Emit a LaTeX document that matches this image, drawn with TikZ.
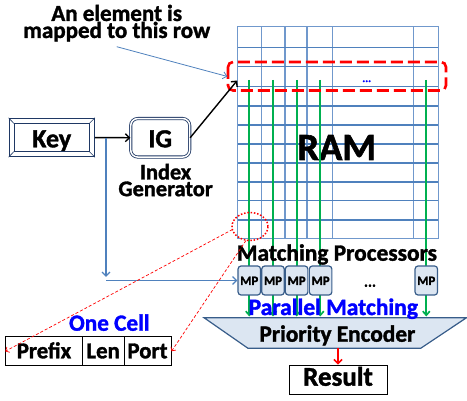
\documentclass[tikz,border=0pt]{standalone}
\usepackage{fontspec}
\setmainfont{Carlito}[BoldFont={Carlito Bold}, BoldFeatures={FakeBold=1.5}]
\usetikzlibrary{arrows.meta}
\definecolor{gridblue}{HTML}{4F81BD}
\definecolor{gridlight}{HTML}{7098CC}
\definecolor{navy}{HTML}{1F3864}
\definecolor{mpfill}{HTML}{DCE6F2}
\definecolor{mpdraw}{HTML}{385D8A}
\definecolor{grn}{HTML}{00B050}
\definecolor{txtblue}{HTML}{0000FF}
\newcommand{\fsz}[1]{\fontsize{#1}{#1}\selectfont\bfseries}
\tikzset{
  mpbox/.style={draw=mpdraw, fill=mpfill, line width=1.2pt, rounded corners=3pt,
    minimum width=22.5pt, minimum height=29pt, inner sep=0pt, text height=9pt, text depth=0pt,
    font=\fsz{12.8}},
  cellbox/.style={draw=black, line width=1pt, minimum height=29.3pt, inner sep=0pt,
    text height=14pt, text depth=0pt, font=\fsz{22.8}},
  grnarrow/.style={grn, line width=1.7pt, -{Straight Barb[length=4pt,width=7pt]}},
  bluearrow/.style={gridblue, line width=1.3pt, -{Straight Barb[length=4pt,width=8pt]}},
  redthin/.style={red, line width=0.7pt, dash pattern=on 3pt off 2pt, -{Straight Barb[length=3pt,width=6pt]}},
  lbl/.style={inner sep=0pt, anchor=base}
}
\begin{document}
\begin{tikzpicture}[x=1pt,y=-1pt]
\useasboundingbox (0,0) rectangle (467,401);
% RAM grid
\node[draw=gridlight, line width=1.4pt, minimum width=200.6pt, minimum height=211.6pt, inner sep=0pt] (ram) at (338,132.5) {};
\foreach \x in {261.3,285,307,332.3,413.7}
  \draw[gridlight, line width=1.4pt] (\x,26.7) -- (\x,238.3);
\foreach \y in {47.7,66.7,86.7,106,125,144,163.3,182.3,200.7,220}
  \draw[gridblue, line width=1.6pt] (237.7,\y) -- (438.3,\y);
\node[lbl, font=\fsz{38.5}] (ramtext) at (336.7,160) {RAM};
% green lines
\foreach \x in {249.3,273,296.7,320.3,426.3}
  \draw[grnarrow] (\x,80) -- (\x,316.5);
% red dashed row
\draw[red, line width=2.6pt, dash pattern=on 12pt off 5pt, rounded corners=5pt] (228,62) rectangle (446,90.5);
\node[lbl, text=txtblue, font=\fsz{11}] (dots) at (366.7,82) {...};
% annotation
\node[inner sep=0pt, anchor=north, align=center, font=\fontsize{23}{17}\selectfont\bfseries] (note) at (116.7,4.6) {An element is\\mapped to this row};
\coordinate (rowleft) at (227.5,76.5);
\draw[gridblue, line width=0.8pt, -{Straight Barb[length=4pt,width=7pt]}] (116.7,46.7) -- (rowleft);
% key and IG
\node[draw=navy, line width=1pt, minimum width=85.3pt, minimum height=38.4pt, inner sep=0pt,
  text height=19.6pt, text depth=0pt, font=\fsz{26}] (key) at (51.7,137.5) {Key};
\draw[navy, line width=0.8pt] (14,123.5) rectangle (89.3,151.5);
\draw[navy, line width=0.6pt] (key.north west) -- (14,123.5) (key.north east) -- (89.3,123.5)
  (key.south west) -- (14,151.5) (key.south east) -- (89.3,151.5);
\node[draw=navy, double=white, double distance=1.5pt, line width=0.8pt, rounded corners=7pt,
  minimum width=59pt, minimum height=38.5pt, inner sep=0pt,
  text height=19pt, text depth=0pt, font=\fsz{26}] (ig) at (160.2,137.8) {IG};
\node[inner sep=0pt, anchor=north, align=center, font=\fontsize{22.3}{16.7}\selectfont\bfseries] (iglabel) at (165.6,163.6) {Index\\Generator};
\draw[line width=1.4pt, -{Straight Barb[length=4pt,width=8pt]}] (key) -- (ig);
\coordinate (rowin) at (237.2,80.5);
\draw[line width=1.4pt, -{Straight Barb[length=4pt,width=8pt]}] (ig.east) -- (rowin);
% MPs
\node[mpbox] (mp1) at (249.3,280.5) {MP};
\node[mpbox] (mp2) at (273,280.5) {MP};
\node[mpbox] (mp3) at (296.6,280.5) {MP};
\node[mpbox] (mp4) at (320.6,280.5) {MP};
\node[mpbox] (mp5) at (426.3,280.5) {MP};
\node[lbl, font=\fsz{15}] (mpdots) at (370,286.7) {...};
\node[lbl, font=\fsz{23.4}] (mptitle) at (337,260.7) {Matching Processors};
% key to MPs
\coordinate (split) at (106,138);
\coordinate (down) at (106,277);
\coordinate (turn) at (106,280.5);
\draw[bluearrow] (split) -- (down);
\draw[bluearrow] (turn) -- (mp1.west);
% priority encoder
\draw[draw=mpdraw, fill=mpfill, line width=1.2pt] (204,317.7) -- (466.5,317.7) -- (420.7,348.3) -- (248,348.3) -- cycle;
\node[lbl, font=\fsz{23.3}] (pe) at (337.4,341.7) {Priority Encoder};
\node[lbl, text=txtblue, font=\fsz{23.5}] (pm) at (333.3,315) {Parallel Matching};
% result
\node[draw=black, line width=1pt, minimum width=98pt, minimum height=29.3pt, inner sep=0pt,
  text height=12pt, text depth=0pt, font=\fsz{27}] (result) at (338,379.7) {Result};
\coordinate (peout) at (338,348.3);
\draw[red, line width=1.6pt, -{Straight Barb[length=4pt,width=8pt]}] (peout) -- (result.north);
% one cell
\node[lbl, text=txtblue, font=\fsz{23.2}] (onecell) at (109.3,330.7) {One Cell};
\node[cellbox, minimum width=76.6pt] (prefix) at (44,351.3) {Prefix};
\node[cellbox, minimum width=41.7pt] (len) at (103.15,351.3) {Len};
\node[cellbox, minimum width=47pt] (port) at (147.5,351.3) {Port};
% circle
\draw[red, line width=1.5pt, dash pattern=on 1.5pt off 1.8pt] (250,226.5) ellipse (18pt and 14pt);
\coordinate (circA) at (232.5,229.5);
\coordinate (circB) at (246,240.5);
\draw[redthin] (circA) -- (prefix.west);
\draw[redthin] (circB) -- (port.east);
\end{tikzpicture}
\end{document}
